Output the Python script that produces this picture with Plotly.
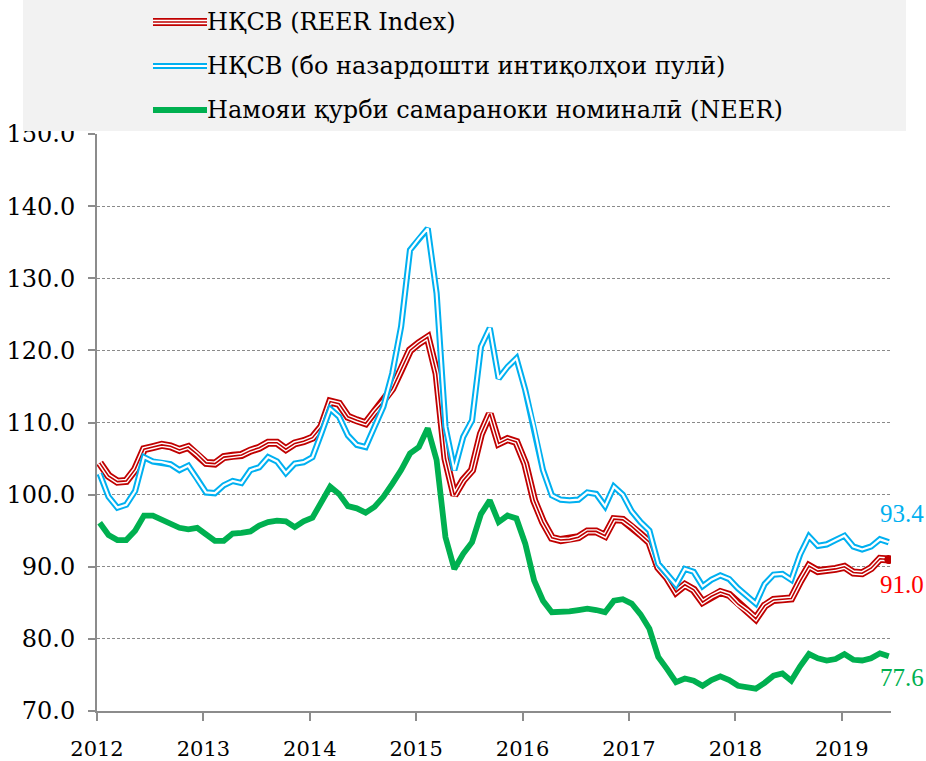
import plotly.graph_objects as go

# ---------------- data (monthly, Jan 2012 - Jun 2019) ----------------
years = [2012, 2013, 2014, 2015, 2016, 2017, 2018, 2019]
months = list(range(90))  # 0 = Jan 2012

reer = [104.4, 102.6, 101.8, 101.9, 103.5, 106.3, 106.6, 106.9, 106.7, 106.2, 106.6, 105.6,
        104.4, 104.3, 105.2, 105.4, 105.5, 106.1, 106.5, 107.2, 107.2, 106.3, 107.1, 107.4,
        107.9, 109.4, 112.9, 112.6, 110.8, 110.3, 109.9, 111.5, 112.9, 114.7, 117.3, 120.0,
        121.0, 121.8, 116.8, 105.0, 99.9, 102.0, 103.4, 108.4, 111.2, 107.1, 107.7, 107.3,
        104.3, 99.2, 96.2, 94.0, 93.7, 93.8, 94.1, 94.9, 94.9, 94.3, 96.6, 96.5,
        95.6, 94.5, 93.4, 89.9, 88.5, 86.5, 87.5, 86.8, 85.1, 85.9, 86.5, 86.1,
        84.8, 83.9, 82.8, 84.6, 85.4, 85.5, 85.6, 88.0, 90.1, 89.4, 89.5, 89.7,
        90.0, 89.2, 89.1, 89.8, 91.1, 91.0]

reer_excl = [102.9, 99.7, 98.2, 98.6, 100.5, 105.2, 104.6, 104.5, 104.2, 103.4, 104.0, 102.2,
             100.3, 100.2, 101.3, 101.9, 101.6, 103.4, 103.8, 105.2, 104.6, 103.0, 104.3, 104.5,
             105.2, 108.5, 111.9, 110.8, 108.2, 106.9, 106.6, 109.4, 112.2, 116.8, 123.3, 133.9,
             135.5, 136.9, 127.9, 109.4, 103.4, 108.0, 110.3, 120.5, 123.1, 116.1, 117.7, 118.9,
             114.5, 109.4, 103.4, 99.9, 99.3, 99.2, 99.3, 100.3, 100.1, 98.4, 101.1, 100.0,
             97.7, 96.2, 95.0, 90.4, 89.0, 87.5, 89.7, 89.3, 87.3, 88.2, 88.8, 88.3,
             87.0, 86.0, 84.9, 87.6, 88.9, 89.0, 88.2, 91.7, 94.2, 92.9, 93.1, 93.7,
             94.3, 92.8, 92.4, 92.8, 93.8, 93.4]

neer = [96.1, 94.4, 93.7, 93.7, 95.0, 97.1, 97.1, 96.6, 96.0, 95.4, 95.2, 95.4,
        94.5, 93.6, 93.6, 94.6, 94.7, 94.9, 95.7, 96.2, 96.4, 96.3, 95.5, 96.3,
        96.8, 99.0, 101.1, 100.1, 98.4, 98.1, 97.5, 98.3, 99.7, 101.5, 103.4, 105.7,
        106.6, 109.2, 104.8, 94.1, 89.7, 91.8, 93.4, 97.3, 99.2, 96.2, 97.1, 96.7,
        93.2, 88.1, 85.3, 83.7, 83.7, 83.8, 84.0, 84.2, 84.0, 83.7, 85.3, 85.5,
        84.9, 83.4, 81.4, 77.5, 75.8, 74.0, 74.5, 74.2, 73.5, 74.3, 74.8, 74.3,
        73.5, 73.2, 73.1, 73.9, 74.9, 75.2, 74.2, 76.2, 77.9, 77.3, 77.0, 77.2,
        77.9, 77.1, 77.0, 77.3, 78.0, 77.6]

names = ["НҚСВ (REER Index)",
         "НҚСВ (бо назардошти интиқолҳои пулӣ)",
         "Намояи қурби самараноки номиналӣ (NEER)"]

RED = "#c00000"
BLUE = "#00b0f0"
GREEN = "#00b050"
LABEL_RED = "#ff0000"

FONT = "DejaVu Serif"
FONT2 = "Liberation Serif"

# ---------------- geometry helpers (pixels -> paper) ----------------
W, H = 926, 761
ML, MR, MT, MB = 97, 35, 134, 50
PW, PH = W - ML - MR, H - MT - MB


def px(xpix):
    return (xpix - ML) / PW


def py(ypix):
    return (H - MB - ypix) / PH


fig = go.Figure()

common = dict(mode="lines", hoverinfo="skip", showlegend=False)
# red triple line
fig.add_trace(go.Scatter(x=months, y=reer, line=dict(color=RED, width=8), **common))
fig.add_trace(go.Scatter(x=months, y=reer, line=dict(color="white", width=4.4), **common))
fig.add_trace(go.Scatter(x=months, y=reer, line=dict(color=RED, width=1.6), **common))
fig.add_trace(go.Scatter(x=[months[-1]], y=[reer[-1]], mode="markers",
                         marker=dict(color=RED, size=9, line=dict(width=0)),
                         hoverinfo="skip", showlegend=False))
# blue double line
fig.add_trace(go.Scatter(x=months, y=reer_excl, line=dict(color=BLUE, width=6.2), **common))
fig.add_trace(go.Scatter(x=months, y=reer_excl, line=dict(color="white", width=2.2), **common))
# green solid
fig.add_trace(go.Scatter(x=months, y=neer, line=dict(color=GREEN, width=5.8), **common))

shapes = []
# legend background
shapes.append(dict(type="rect", xref="paper", yref="paper", layer="above",
                    x0=px(23), x1=px(906), y0=py(131), y1=py(0),
                    fillcolor="#f2f2f2", line=dict(width=0)))
# legend symbols
rows = [22, 66, 110]
sx0, sx1 = px(153), px(207)
shapes += [
    dict(type="line", xref="paper", yref="paper", layer="above", x0=sx0, x1=sx1,
         y0=py(rows[0]), y1=py(rows[0]), line=dict(color=RED, width=8)),
    dict(type="line", xref="paper", yref="paper", layer="above", x0=sx0, x1=sx1,
         y0=py(rows[0]), y1=py(rows[0]), line=dict(color="white", width=4.4)),
    dict(type="line", xref="paper", yref="paper", layer="above", x0=sx0, x1=sx1,
         y0=py(rows[0]), y1=py(rows[0]), line=dict(color=RED, width=1.6)),
    dict(type="line", xref="paper", yref="paper", layer="above", x0=sx0, x1=sx1,
         y0=py(rows[1]), y1=py(rows[1]), line=dict(color=BLUE, width=6.2)),
    dict(type="line", xref="paper", yref="paper", layer="above", x0=sx0, x1=sx1,
         y0=py(rows[1]), y1=py(rows[1]), line=dict(color="white", width=2.2)),
    dict(type="line", xref="paper", yref="paper", layer="above", x0=sx0, x1=sx1,
         y0=py(rows[2]), y1=py(rows[2]), line=dict(color=GREEN, width=5.8)),
]

annotations = []
for name, r in zip(names, rows):
    annotations.append(dict(text=name, xref="paper", yref="paper", x=px(205), y=py(r),
                            xanchor="left", yanchor="middle", showarrow=False,
                            font=dict(family=FONT, size=24, color="black")))

# end-value labels
for series, col, ys in [(reer_excl, BLUE, 29), (reer, LABEL_RED, -25), (neer, GREEN, -21)]:
    annotations.append(dict(text=f"{series[-1]:.1f}", x=months[-1], y=series[-1],
                            xref="x", yref="y", xanchor="center", yanchor="middle",
                            xshift=13, yshift=ys, showarrow=False,
                            font=dict(family=FONT2, size=25, color=col)))

fig.update_layout(
    width=W, height=H, autosize=False,
    margin=dict(l=ML, r=MR, t=MT, b=MB, pad=0, autoexpand=False),
    paper_bgcolor="white", plot_bgcolor="white",
    shapes=shapes, annotations=annotations,
    showlegend=False,
)

fig.update_xaxes(
    range=[-0.3, 89.25],
    tickmode="array",
    tickvals=[12 * i - 0.3 for i in range(len(years))],
    ticktext=[str(y) for y in years],
    showgrid=False, zeroline=False, automargin=False,
    showline=True, linecolor="#8c8c8c", linewidth=2,
    ticks="outside", ticklen=8, tickwidth=2, tickcolor="#8c8c8c",
    tickfont=dict(family=FONT, size=21, color="black"),
    ticklabelstandoff=10,
)
fig.update_yaxes(
    range=[70, 150], dtick=10, tick0=70, tickformat=".1f",
    showgrid=True, gridcolor="#8a8a8a", gridwidth=1, griddash="3px,2px",
    zeroline=False, automargin=False,
    showline=True, linecolor="#8c8c8c", linewidth=2,
    ticks="outside", ticklen=7, tickwidth=2, tickcolor="#8c8c8c",
    tickfont=dict(family=FONT, size=24, color="black"),
    ticklabelstandoff=8,
)

fig.write_html("out.html",
               config={"displayModeBar": False, "staticPlot": True},
               post_script="document.body.style.margin='0px';document.body.style.overflow='hidden';")
